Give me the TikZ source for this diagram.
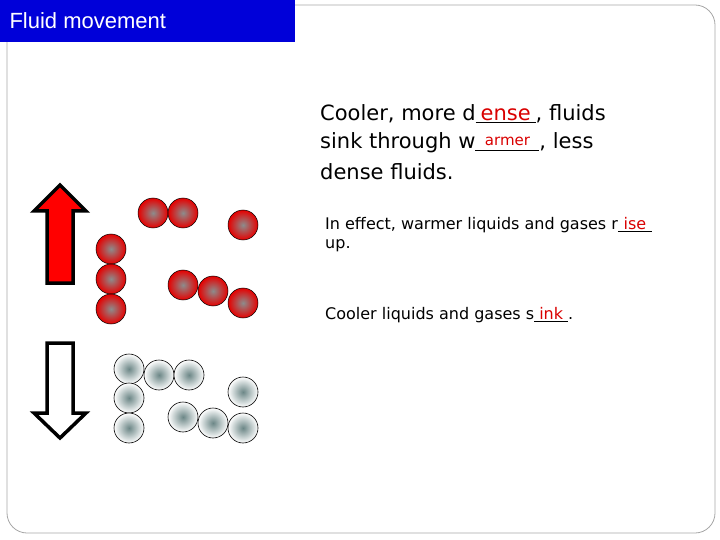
\documentclass[tikz,border=0pt]{standalone}
\usepackage{fontspec}
\setmainfont{DejaVu Sans}
\newfontfamily\titlefont{Liberation Sans}
\newcommand\blank[2]{\underline{\makebox[#2]{\textcolor{red!85!black}{#1}}}}
\begin{document}
\begin{tikzpicture}[x=1pt,y=-1pt,
  hot/.style={circle,draw=black,line width=0.5pt,minimum size=30pt,inner sep=0pt,inner color=gray!90,outer color=red!90!black},
  cold/.style={circle,draw=black,line width=0.6pt,minimum size=30pt,inner sep=0pt,inner color=gray!70!cyan!50!black!70,outer color=white},
  bigtxt/.style={anchor=west,font=\fontsize{21}{24}\selectfont,inner sep=0pt},
  smalltxt/.style={anchor=west,font=\fontsize{16}{18}\selectfont,inner sep=0pt},
  arr/.style={line width=3.5pt,line join=miter}]
\useasboundingbox (0,0) rectangle (720,540);
\draw[gray!70,line width=0.8pt,rounded corners=20pt] (7,5) rectangle (715,533);
\fill[blue!85!black] (0,0) rectangle (295,42);
\node[anchor=west,text=white,font=\titlefont\fontsize{22}{24}\selectfont] (title) at (6,21) {Fluid movement};
% arrows
\draw[arr,fill=red] (47,283) -- (47,211) -- (34,211) -- (60,185) -- (86,211) -- (73,211) -- (73,283) -- cycle;
\draw[arr,fill=white] (47,343) -- (47,413) -- (34,413) -- (60,438) -- (86,413) -- (73,413) -- (73,343) -- cycle;
% particles
\foreach \n/\x/\y in {h1/153/213,h2/183/213,h3/243/225,h4/111/249,h5/111/279,h6/111/309,h7/183/285,h8/213/291,h9/243/303}
  \node[hot] (\n) at (\x,\y) {};
\foreach \n/\x/\y in {c1/129/369,c2/159/375,c3/189/375,c4/129/398,c5/129/428,c6/243/392,c7/183/417,c8/213/423,c9/243/428}
  \node[cold] (\n) at (\x,\y) {};
% text
\node[bigtxt] (l1) at (320,114) {Cooler, more d\blank{ense}{60pt}, fluids};
\node[bigtxt] (l2) at (320,143) {sink through w\blank{\raisebox{3pt}{\fontsize{15}{16}\selectfont armer}}{64pt}, less};
\node[bigtxt] (l3) at (320,172) {dense fluids.};
\node[smalltxt] (s1) at (325,225) {In effect, warmer liquids and gases r\blank{ise}{34pt}};
\node[smalltxt] (s2) at (325,246) {up.};
\node[smalltxt] (s3) at (325,315) {Cooler liquids and gases s\blank{ink}{34pt}.};
\end{tikzpicture}
\end{document}
